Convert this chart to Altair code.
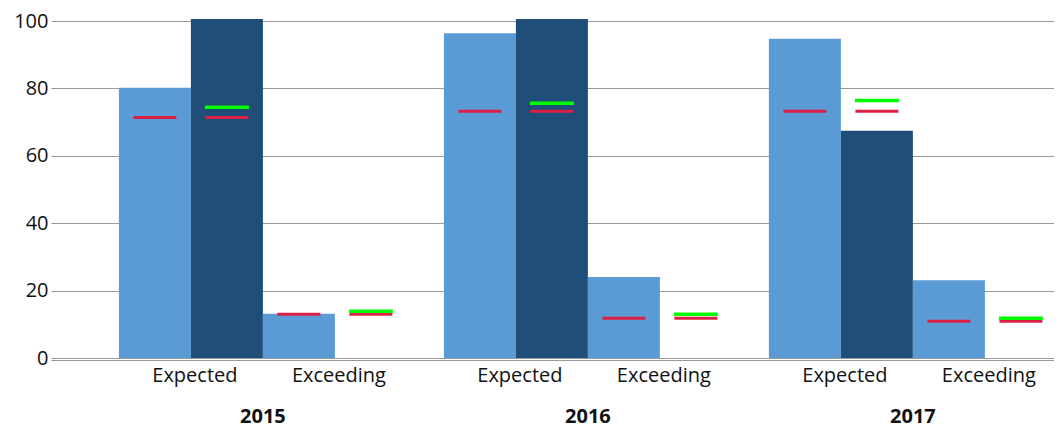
import altair as alt
import pandas as pd

years = ["2015", "2016", "2017"]
categories = ["Expected", "Exceeding"]
series = ["A", "B"]

light_expected = [80.2, 96.4, 94.7]
dark_expected = [100.6, 100.6, 67.4]
light_exceeding = [13.1, 24.0, 23.1]
dark_exceeding = [0, 0, 0]

red_light_expected = [71.4, 73.2, 73.2]
red_dark_expected = [71.4, 73.2, 73.2]
red_light_exceeding = [13.0, 11.8, 10.9]
red_dark_exceeding = [13.0, 11.8, 10.9]

green_dark_expected = [74.4, 75.6, 76.4]
green_dark_exceeding = [13.9, 13.0, 11.8]

slots = ["Expected|A", "Expected|B", "Exceeding|A", "Exceeding|B"]

rows = []
for i, yr in enumerate(years):
    rows.append(dict(year=yr, slot="Expected|A", series="A", value=light_expected[i], red=red_light_expected[i], green=None))
    rows.append(dict(year=yr, slot="Expected|B", series="B", value=dark_expected[i], red=red_dark_expected[i], green=green_dark_expected[i]))
    rows.append(dict(year=yr, slot="Exceeding|A", series="A", value=light_exceeding[i], red=red_light_exceeding[i], green=None))
    rows.append(dict(year=yr, slot="Exceeding|B", series="B", value=dark_exceeding[i], red=red_dark_exceeding[i], green=green_dark_exceeding[i]))
df = pd.DataFrame(rows)

label_rows = []
for yr in years:
    label_rows.append(dict(year=yr, slot="Expected|A", label="Expected"))
    label_rows.append(dict(year=yr, slot="Exceeding|A", label="Exceeding"))
labels_df = pd.DataFrame(label_rows)

FONT = "Open Sans"

x_enc = alt.X(
    "year:N",
    sort=years,
    scale=alt.Scale(domain=years, paddingInner=0.1138, paddingOuter=0.1123, align=0.93),
    axis=alt.Axis(
        title=None, labelAngle=0, ticks=False, domain=True, domainColor="#999999",
        offset=2, labelFontWeight="bold", labelFontSize=20, labelFont=FONT,
        labelColor="#111111", labelPadding=56, labelBaseline="middle", grid=False,
    ),
)
xo_enc = alt.XOffset("slot:N", scale=alt.Scale(domain=slots, paddingInner=0, paddingOuter=0))
y_scale = alt.Scale(domain=[0, 100], nice=False, zero=True)

bars = alt.Chart(df).mark_bar().encode(
    x=x_enc,
    xOffset=xo_enc,
    y=alt.Y(
        "value:Q", scale=y_scale,
        axis=alt.Axis(
            title=None, values=[0, 20, 40, 60, 80, 100], domain=False, ticks=False,
            gridColor="#999999", gridWidth=1, labelFontSize=20, labelFont=FONT,
            labelColor="#111111", labelPadding=3,
        ),
    ),
    color=alt.Color("series:N", scale=alt.Scale(domain=series, range=["#5B9BD5", "#1F4E79"]), legend=None),
)

red = alt.Chart(df).mark_tick(color="#DC1F45", size=43, thickness=3, opacity=1).encode(
    x=x_enc, xOffset=xo_enc, y=alt.Y("red:Q", scale=y_scale),
)

green = alt.Chart(df).transform_filter("datum.green != null").mark_tick(
    color="#00FF00", size=44, thickness=3.5, opacity=1
).encode(
    x=x_enc, xOffset=xo_enc, y=alt.Y("green:Q", scale=y_scale),
)

labels = alt.Chart(labels_df).mark_text(
    font=FONT, fontSize=20, color="#111111", baseline="middle", align="center", dx=40
).encode(
    x=x_enc, xOffset=xo_enc, y=alt.value(355), text="label:N",
)

chart = alt.layer(bars, red, green, labels).properties(
    width=1011, height=337,
    autosize=alt.AutoSizeParams(type="none"),
    padding={"left": 43, "top": 13, "right": -8, "bottom": 72},
).configure_view(stroke=None)

chart.save("out.html", embed_options={"renderer": "svg", "actions": False})
